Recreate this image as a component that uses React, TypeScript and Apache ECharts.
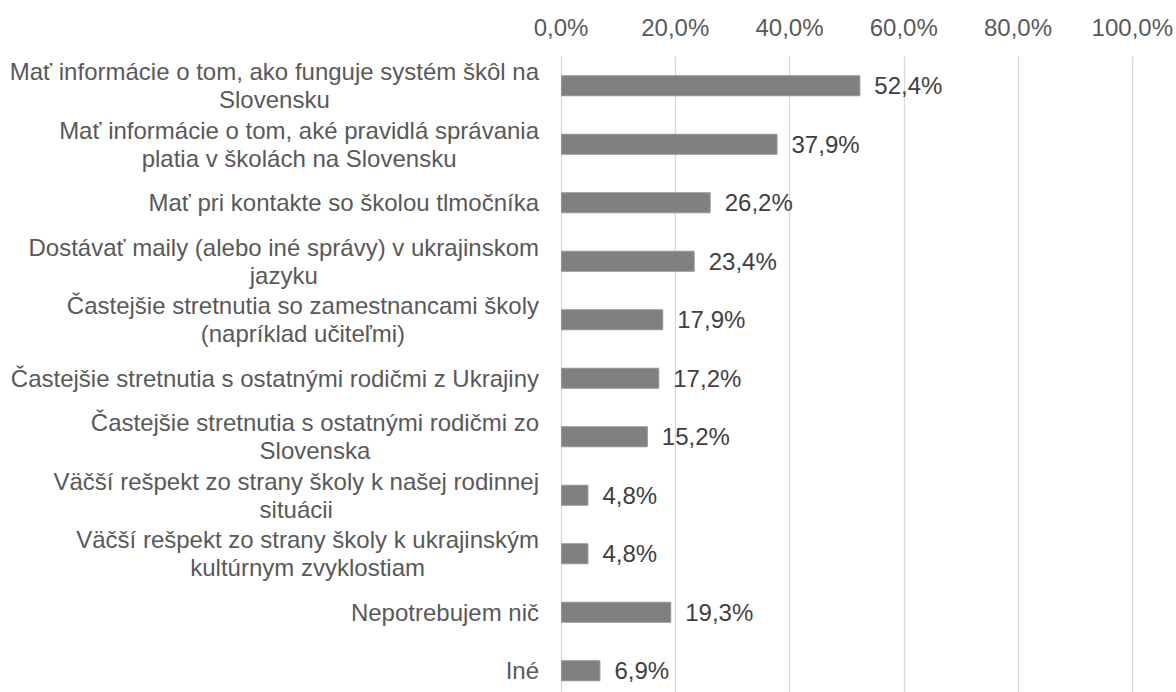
import React, { useEffect, useRef } from "react";
import * as echarts from "echarts";

const categories: string[] = [
  "Mať informácie o tom, ako funguje systém škôl na\nSlovensku",
  "Mať informácie o tom, aké pravidlá správania\nplatia v školách na Slovensku",
  "Mať pri kontakte so školou tlmočníka",
  "Dostávať maily (alebo iné správy) v ukrajinskom\njazyku",
  "Častejšie stretnutia so zamestnancami školy\n(napríklad učiteľmi)",
  "Častejšie stretnutia s ostatnými rodičmi z Ukrajiny",
  "Častejšie stretnutia s ostatnými rodičmi zo\nSlovenska",
  "Väčší rešpekt zo strany školy k našej rodinnej\nsituácii",
  "Väčší rešpekt zo strany školy k ukrajinským\nkultúrnym zvyklostiam",
  "Nepotrebujem nič",
  "Iné",
];

const values: number[] = [52.4, 37.9, 26.2, 23.4, 17.9, 17.2, 15.2, 4.8, 4.8, 19.3, 6.9];

const axisMin = 0;
const axisMax = 100;
const axisInterval = 20;

const fmtPct = (v: number) => v.toFixed(1).replace(".", ",") + "%";

export default function App() {
  const ref = useRef<HTMLDivElement>(null);

  useEffect(() => {
    if (!ref.current) return;
    const chart = echarts.init(ref.current, undefined, { renderer: "svg" });
    const font = "'Liberation Sans', Arial, sans-serif";
    const fs = 24;
    chart.setOption({
      animation: false,
      textStyle: { fontFamily: font },
      grid: { left: 561, right: 42, top: 56.5, bottom: 0, containLabel: false },
      xAxis: {
        type: "value",
        position: "top",
        min: axisMin,
        max: axisMax,
        interval: axisInterval,
        axisLine: { show: false },
        axisTick: { show: false },
        splitLine: { show: true, lineStyle: { color: "#d9d9d9", width: 1.3 } },
        axisLabel: {
          color: "#595959",
          fontSize: fs,
          fontFamily: font,
          margin: 17,
          formatter: (v: number) => fmtPct(v),
        },
      },
      yAxis: {
        type: "category",
        inverse: true,
        data: categories,
        axisLine: { show: false },
        axisTick: { show: false },
        splitLine: { show: false },
        axisLabel: {
          color: "#595959",
          fontSize: fs,
          fontFamily: font,
          margin: 22,
          align: "right",
          formatter: (v: string) =>
            v
              .split("\n")
              .map((l) => `{c|${l}}`)
              .join("\n"),
          rich: {
            c: {
              align: "center",
              color: "#595959",
              fontSize: fs,
              fontFamily: font,
              lineHeight: 28,
            },
          },
        },
      },
      series: [
        {
          type: "bar",
          data: values,
          barWidth: 21,
          itemStyle: { color: "#808080", borderColor: "#949494", borderWidth: 1 },
          label: {
            show: true,
            position: "right",
            distance: 14,
            color: "#404040",
            fontSize: fs,
            fontFamily: font,
            formatter: (p: any) => fmtPct(p.value),
          },
        },
      ],
    });
    return () => chart.dispose();
  }, []);

  return (
    <div
      style={{
        position: "fixed",
        left: 0,
        top: 0,
        width: 1176,
        height: 692,
        overflow: "hidden",
        background: "#fff",
      }}
    >
      <div ref={ref} style={{ position: "absolute", left: 0, top: 0, width: 1176, height: 700 }} />
    </div>
  );
}
